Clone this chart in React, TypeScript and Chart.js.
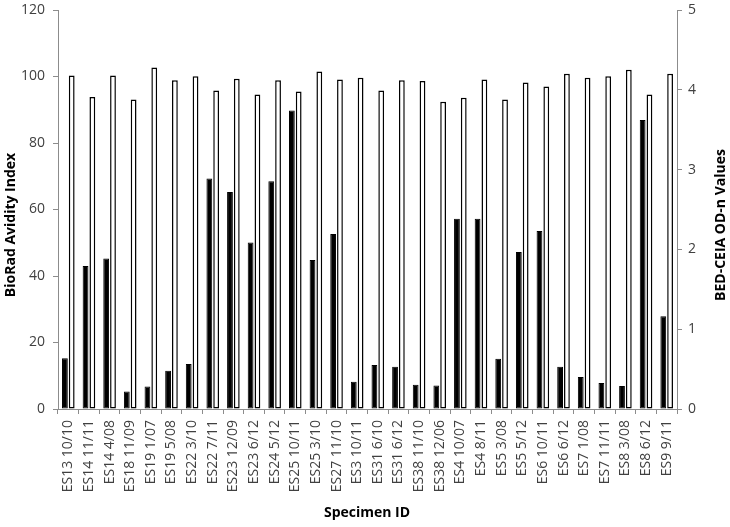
import React, { useEffect, useRef } from "react";
import { Chart, registerables } from "chart.js";

Chart.register(...registerables);

const categories = [
  "ES13 10/10", "ES14 11/11", "ES14 4/08", "ES18 11/09", "ES19 1/07", "ES19 5/08",
  "ES22 3/10", "ES22 7/11", "ES23 12/09", "ES23 6/12", "ES24 5/12", "ES25 10/11",
  "ES25 3/10", "ES27 11/10", "ES3 10/11", "ES31 6/10", "ES31 6/12", "ES38 11/10",
  "ES38 12/06", "ES4 10/07", "ES4 8/11", "ES5 3/08", "ES5 5/12", "ES6 10/11",
  "ES6 6/12", "ES7 1/08", "ES7 11/11", "ES8 3/08", "ES8 6/12", "ES9 9/11",
];

const avidityIndex = [
  15.3, 43.0, 45.3, 5.3, 6.8, 11.5, 13.5, 69.3, 65.3, 50.1, 68.5, 89.8, 44.8, 52.6, 8.2,
  13.2, 12.7, 7.3, 7.1, 57.2, 57.2, 15.1, 47.2, 53.5, 12.7, 9.6, 7.8, 6.9, 86.9, 27.9,
];

const bedOdn = [
  4.18, 3.91, 4.18, 3.88, 4.28, 4.12, 4.17, 3.99, 4.14, 3.94, 4.12, 3.98, 4.23, 4.13, 4.15,
  3.99, 4.12, 4.11, 3.85, 3.90, 4.13, 3.88, 4.09, 4.04, 4.20, 4.15, 4.17, 4.25, 3.94, 4.20,
];

const leftTitle = "BioRad Avidity Index";
const rightTitle = "BED-CEIA OD-n Values";
const xTitle = "Specimen ID";

const FONT = "'Open Sans', 'Noto Sans', sans-serif";
const AXIS_COLOR = "#8c8c8c";
const TEXT_COLOR = "#404040";

const titlePlugin = {
  id: "customTitles",
  afterDraw(chart: any) {
    const ctx = chart.ctx;
    ctx.save();
    ctx.fillStyle = "#000";
    ctx.font = `bold 14px ${FONT}`;
    ctx.textAlign = "center";
    ctx.textBaseline = "middle";
    ctx.fillText(xTitle, 367, 513);
    ctx.translate(11, 225);
    ctx.rotate(-Math.PI / 2);
    ctx.fillText(leftTitle, 0, 0);
    ctx.restore();
    ctx.save();
    ctx.fillStyle = "#000";
    ctx.font = `bold 14px ${FONT}`;
    ctx.textAlign = "center";
    ctx.textBaseline = "middle";
    ctx.translate(721, 225);
    ctx.rotate(-Math.PI / 2);
    ctx.fillText(rightTitle, 0, 0);
    ctx.restore();
  },
};

export default function App() {
  const ref = useRef<HTMLCanvasElement | null>(null);
  useEffect(() => {
    if (!ref.current) return;
    const chart = new Chart(ref.current, {
      type: "bar",
      data: {
        labels: categories,
        datasets: [
          {
            label: leftTitle,
            data: avidityIndex,
            yAxisID: "y",
            backgroundColor: "#000",
            borderColor: "#000",
            borderWidth: 1,
            borderSkipped: false,
            categoryPercentage: 0.66,
            barPercentage: 0.85,
          },
          {
            label: rightTitle,
            data: bedOdn,
            yAxisID: "y1",
            backgroundColor: "#fff",
            borderColor: "#000",
            borderWidth: 1.5,
            borderSkipped: false,
            categoryPercentage: 0.66,
            barPercentage: 0.85,
          },
        ],
      },
      options: {
        animation: false,
        responsive: true,
        maintainAspectRatio: false,
        layout: { padding: { top: 10, left: 0, right: 0, bottom: 0 } },
        plugins: { legend: { display: false }, tooltip: { enabled: false } },
        scales: {
          x: {
            grid: {
              offset: true,
              drawOnChartArea: false,
              drawTicks: true,
              tickLength: 5,
              color: AXIS_COLOR,
            },
            border: { color: AXIS_COLOR, width: 1 },
            ticks: {
              maxRotation: 90,
              minRotation: 90,
              autoSkip: false,
              padding: 6,
              color: TEXT_COLOR,
              font: { family: FONT, size: 14 },
            },
            afterFit: (s: any) => { s.height = 118; s.paddingLeft = 0; s.paddingRight = 0; },
          },
          y: {
            position: "left",
            min: 0,
            max: 120,
            ticks: { stepSize: 20, padding: 8, color: TEXT_COLOR, font: { family: FONT, size: 14 } },
            grid: { drawOnChartArea: false, drawTicks: true, tickLength: 5, color: AXIS_COLOR },
            border: { color: AXIS_COLOR, width: 1 },
            afterFit: (s: any) => { s.width = 58; s.paddingTop = 0; s.paddingBottom = 0; },
          },
          y1: {
            position: "right",
            min: 0,
            max: 5,
            ticks: { stepSize: 1, padding: 6, color: TEXT_COLOR, font: { family: FONT, size: 14 } },
            grid: { drawOnChartArea: false, drawTicks: true, tickLength: 5, color: AXIS_COLOR },
            border: { color: AXIS_COLOR, width: 1 },
            afterFit: (s: any) => { s.width = 53; s.paddingTop = 0; s.paddingBottom = 0; },
          },
        },
      },
      plugins: [titlePlugin],
    });
    return () => chart.destroy();
  }, []);
  return (
    <div style={{ position: "fixed", left: 0, top: 0, width: 730, height: 527, background: "#fff" }}>
      <canvas ref={ref} />
    </div>
  );
}
